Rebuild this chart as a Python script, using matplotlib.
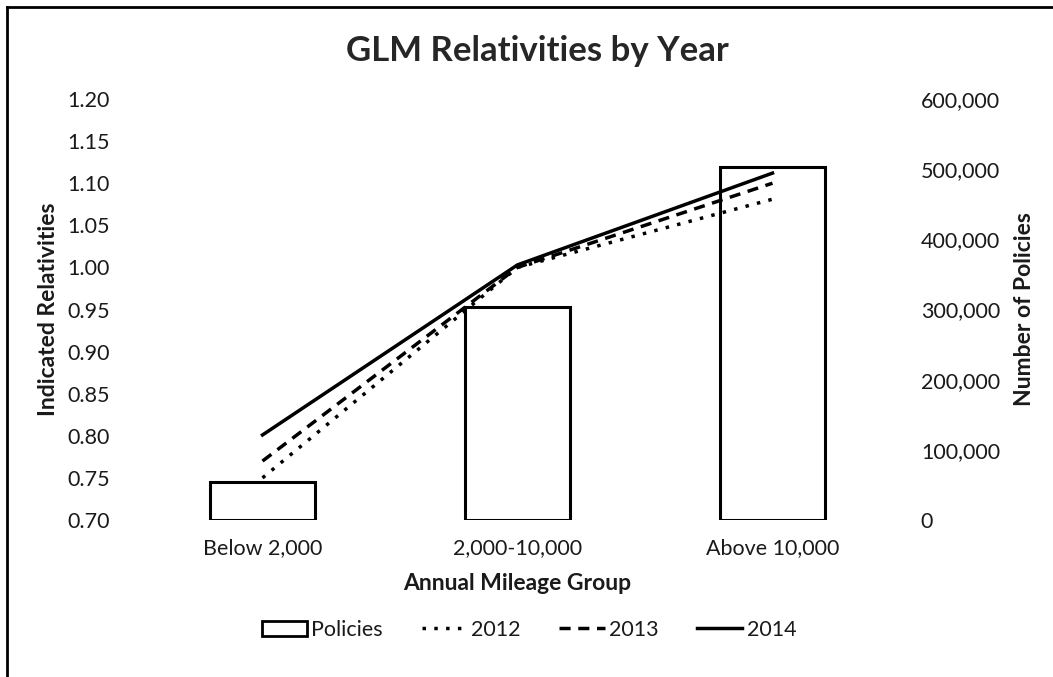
import matplotlib
matplotlib.use("Agg")
import matplotlib.pyplot as plt
from matplotlib.patches import Patch
from matplotlib.lines import Line2D
from matplotlib.ticker import FuncFormatter

plt.rcParams['font.family'] = ['Lato', 'DejaVu Sans']

categories = ["Below 2,000", "2,000-10,000", "Above 10,000"]
policies = [54000, 303000, 503000]
rel_2012 = [0.750, 1.000, 1.081]
rel_2013 = [0.770, 1.000, 1.100]
rel_2014 = [0.801, 1.003, 1.112]
left_ticks = [0.70, 0.75, 0.80, 0.85, 0.90, 0.95, 1.00, 1.05, 1.10, 1.15, 1.20]
right_ticks = [0, 100000, 200000, 300000, 400000, 500000, 600000]

W, H = 1053, 677
TXT = "#1a1a1a"
fig = plt.figure(figsize=(W / 100, H / 100), dpi=100)
ax = fig.add_axes([135 / W, 1 - 520 / H, (900 - 135) / W, (520 - 99) / H])
ax2 = ax.twinx()

x = list(range(len(categories)))

# bars on secondary axis, drawn behind the lines
ax2.bar(x, policies, width=0.41, facecolor="white", edgecolor="black", linewidth=2.2)
ax.set_zorder(ax2.get_zorder() + 1)
ax.patch.set_visible(False)

ls12 = (0, (1, 2.4))
ls13 = (0, (3.2, 2.2))
ax.plot(x, rel_2012, color="black", lw=2.5, linestyle=ls12)
ax.plot(x, rel_2013, color="black", lw=2.5, linestyle=ls13)
ax.plot(x, rel_2014, color="black", lw=2.5, linestyle="-")

ax.set_xlim(-0.5, 2.5)
ax.set_ylim(0.70, 1.20)
ax2.set_ylim(0, 600000)
ax.set_yticks(left_ticks)
ax.yaxis.set_major_formatter(FuncFormatter(lambda v, p: f"{v:.2f}"))
ax2.set_yticks(right_ticks)
ax2.yaxis.set_major_formatter(FuncFormatter(lambda v, p: f"{int(v):,}"))
ax.set_xticks(x)
ax.set_xticklabels(categories)

for a in (ax, ax2):
    for s in a.spines.values():
        s.set_visible(False)
    a.tick_params(length=0, labelsize=15.5, colors=TXT)
ax.tick_params(axis="y", pad=18)
ax2.tick_params(axis="y", pad=15)
ax.tick_params(axis="x", pad=13)

ax.set_xlabel("Annual Mileage Group", fontsize=16.5, fontweight="bold", labelpad=11, color=TXT)
ax.set_ylabel("Indicated Relativities", fontsize=16.5, fontweight="bold", labelpad=6, color=TXT)
ax2.set_ylabel("Number of Policies", fontsize=16.5, fontweight="bold", labelpad=10, color=TXT)

fig.text(537 / W, 1 - 61 / H, "GLM Relativities by Year", ha="center", va="baseline",
         fontsize=25, fontweight="bold", color="#262626")

handles = [
    Patch(facecolor="white", edgecolor="black", linewidth=2),
    Line2D([], [], color="black", lw=2.5, linestyle=ls12),
    Line2D([], [], color="black", lw=2.5, linestyle=ls13),
    Line2D([], [], color="black", lw=2.5, linestyle="-"),
]
leg = fig.legend(handles, ["Policies", "2012", "2013", "2014"], ncol=4, frameon=False,
                 loc="center", bbox_to_anchor=(529 / W, 1 - 630 / H), fontsize=15.5,
                 handlelength=2.1, handletextpad=0.2, columnspacing=1.8)
for t in leg.get_texts():
    t.set_color(TXT)

# outer frame (top and left visible)
fig.add_artist(Line2D([7 / W, 1], [1 - 7 / H, 1 - 7 / H], transform=fig.transFigure,
                      color="black", lw=2))
fig.add_artist(Line2D([7 / W, 7 / W], [0, 1 - 7 / H], transform=fig.transFigure,
                      color="black", lw=2))

fig.savefig("out.png", dpi=100, facecolor="white")
